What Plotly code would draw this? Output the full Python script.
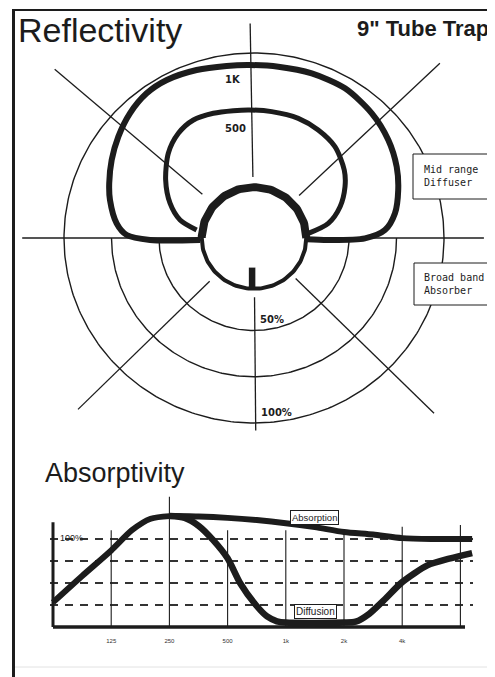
import math
import numpy as np
import plotly.graph_objects as go

# The page places the figure 8px in from the top-left corner (default body margin),
# so the figure is sized to fill the rest of the 495x677 window.
OFF = 8
PAGE_W, PAGE_H = 495, 677
W, H = PAGE_W - OFF, PAGE_H - OFF

# ---------------- Reflectivity (polar pattern), units = % of full scale ----------------
ring_levels = [50, 75, 100]
ring_full_circle = [False, False, True]
tube_radius = 27.5
spoke_angle = [0, 44, 91, 139, 180, 225, 270.5, 315]
spoke_r_in = [27.5, 33, 33, 36, 27.5, 33, 32, 31]
spoke_r_out = [121, 136, 116, 139, 122, 131, 104, 134]

# 1K reflectivity contour (x, y) in % units
k1_x = [-28.4, -54.7, -67.0, -72.3, -75.8, -76.2, -74.9, -71.4, -65.3, -56.5, -45.9,
        -30.2, -14.4, -2.5, 12.8, 30.4, 47.9, 62.0, 70.7, 75.1, 75.9, 74.2, 68.9,
        58.4, 39.1, 27.7]
k1_y = [-1.1, -1.1, 1.6, 7.9, 20.5, 29.6, 42.2, 54.8, 67.4, 78.2, 85.4,
        90.8, 93.0, 93.5, 92.6, 89.0, 80.9, 67.4, 53.0, 38.5, 25.9, 13.4, 4.3,
        -0.2, -1.1, -0.7]
# 500 Hz reflectivity contour
h500_x = [-30.2, -38.9, -44.2, -46.5, -45.1, -39.8, -31.9, -21.4, -10.9, -2.5, 9.3,
          23.3, 33.8, 42.6, 47.5, 47.9, 45.3, 39.1, 28.6]
h500_y = [4.3, 9.7, 18.8, 31.4, 45.8, 56.6, 63.8, 67.4, 68.8, 69.2, 68.3,
          64.7, 58.4, 49.4, 36.8, 27.7, 16.9, 7.9, 2.5]
absorber_bar = [16, 27.5]  # radial extent of the slot mark at the bottom

# ---------------- Absorptivity ----------------
freq_ticks = [125, 250, 500, 1000, 2000, 4000, 8000]
freq_tick_text = ["125", "250", "500", "1k", "2k", "4k", ""]
freq_grid_top = [110, 148, 110, 110, 108, 114, 116]
pct_ticks = [25, 50, 75, 100]
abs_freq = [62.5, 88.4, 125, 160, 200, 250, 354, 500, 707, 1000, 1414, 2000, 2828, 4000, 5657, 9200]
abs_pct = [28, 58, 87, 110, 123, 126, 125.5, 124, 121.5, 118, 113.5, 108, 105, 101, 100, 100]
diff_freq = [250, 300, 354, 420, 500, 580, 700, 800, 900, 1000, 2000, 2300, 2700, 3200, 4000, 5400, 7100, 9200]
diff_pct = [126, 124, 115, 99, 78, 50, 25, 12, 6.5, 5, 5, 6, 15, 30, 51, 70, 78, 84]
f_min, f_axis_end = 62.5, 8450
pct_axis_top = 119

INK = "#1c1c1c"


def px(x):
    """page pixel -> paper x"""
    return (x - OFF) / W


def py(y):
    """page pixel -> paper y"""
    return 1 - (y - OFF) / H


fig = go.Figure()

# rings
for lvl, full in zip(ring_levels, ring_full_circle):
    th = np.radians(np.linspace(0, 360, 361) if full else np.linspace(180, 360, 181))
    fig.add_trace(go.Scatter(x=lvl * np.cos(th), y=lvl * np.sin(th), mode="lines",
                             line=dict(color=INK, width=1.4), xaxis="x", yaxis="y",
                             hoverinfo="skip"))
# spokes
for a, r0, r1 in zip(spoke_angle, spoke_r_in, spoke_r_out):
    t = math.radians(a)
    fig.add_trace(go.Scatter(x=[r0 * math.cos(t), r1 * math.cos(t)],
                             y=[r0 * math.sin(t), r1 * math.sin(t)], mode="lines",
                             line=dict(color=INK, width=1.3), xaxis="x", yaxis="y",
                             hoverinfo="skip"))
# tube: upper (diffuser) thick, lower (absorber) thinner
th_up = np.radians(np.linspace(0, 180, 91))
th_lo = np.radians(np.linspace(180, 360, 91))
fig.add_trace(go.Scatter(x=tube_radius * np.cos(th_lo), y=tube_radius * np.sin(th_lo),
                         mode="lines", line=dict(color=INK, width=4), xaxis="x", yaxis="y"))
fig.add_trace(go.Scatter(x=tube_radius * np.cos(th_up), y=tube_radius * np.sin(th_up),
                         mode="lines", line=dict(color=INK, width=8), xaxis="x", yaxis="y"))
fig.add_trace(go.Scatter(x=[-1, -1], y=[-absorber_bar[0], -absorber_bar[1]], mode="lines",
                         line=dict(color=INK, width=6.5), xaxis="x", yaxis="y"))
# reflectivity contours
fig.add_trace(go.Scatter(x=k1_x, y=k1_y, mode="lines",
                         line=dict(color=INK, width=6, shape="spline", smoothing=0.8),
                         xaxis="x", yaxis="y"))
fig.add_trace(go.Scatter(x=h500_x, y=h500_y, mode="lines",
                         line=dict(color=INK, width=5, shape="spline", smoothing=0.8),
                         xaxis="x", yaxis="y"))

# absorptivity: vertical frequency grid lines
for f, top in zip(freq_ticks, freq_grid_top):
    fig.add_trace(go.Scatter(x=[f, f], y=[0, top], mode="lines",
                             line=dict(color=INK, width=1.1), xaxis="x2", yaxis="y2",
                             hoverinfo="skip"))
# axis lines
fig.add_trace(go.Scatter(x=[f_min, f_min], y=[0, pct_axis_top], mode="lines",
                         line=dict(color=INK, width=3), xaxis="x2", yaxis="y2"))
fig.add_trace(go.Scatter(x=[f_min, f_axis_end], y=[0, 0], mode="lines",
                         line=dict(color=INK, width=3.5), xaxis="x2", yaxis="y2"))
# curves
fig.add_trace(go.Scatter(x=abs_freq, y=abs_pct, mode="lines",
                         line=dict(color=INK, width=6, shape="spline", smoothing=0.7),
                         xaxis="x2", yaxis="y2"))
fig.add_trace(go.Scatter(x=diff_freq, y=diff_pct, mode="lines",
                         line=dict(color=INK, width=6.5, shape="spline", smoothing=0.7),
                         xaxis="x2", yaxis="y2"))

mono = dict(family="DejaVu Sans Mono", size=10, color=INK)
lab = dict(family="DejaVu Sans", size=10, color=INK, weight="bold")
sans = "Liberation Sans, Arial"

annotations = [
    dict(text="Reflectivity", xref="paper", yref="paper", x=px(15.5), y=py(30.5),
         xanchor="left", yanchor="middle", showarrow=False,
         font=dict(family=sans, size=34, color=INK)),
    dict(text='9" Tube Trap', xref="paper", yref="paper", x=px(355), y=py(29),
         xanchor="left", yanchor="middle", showarrow=False,
         font=dict(family=sans, size=22, color=INK, weight="bold")),
    dict(text="Absorptivity", xref="paper", yref="paper", x=px(43), y=py(473),
         xanchor="left", yanchor="middle", showarrow=False,
         font=dict(family=sans, size=27, color=INK)),
    dict(text="1K", xref="x", yref="y", x=-11, y=max(k1_y) - 7.6, showarrow=False, font=lab),
    dict(text="500", xref="x", yref="y", x=-9.5, y=max(h500_y) - 10, showarrow=False, font=lab),
    dict(text="50%", xref="x", yref="y", x=9.5, y=-ring_levels[0] + 5.7, showarrow=False, font=lab),
    dict(text="100%", xref="x", yref="y", x=12, y=-ring_levels[2] + 5.7, showarrow=False, font=lab),
    dict(text="Mid range<br>Diffuser", xref="paper", yref="paper", x=px(422), y=py(175.5),
         xanchor="left", yanchor="middle", align="left", showarrow=False, font=mono),
    dict(text="Broad band<br>Absorber", xref="paper", yref="paper", x=px(422), y=py(284),
         xanchor="left", yanchor="middle", align="left", showarrow=False, font=mono),
    dict(text="100%", xref="x2", yref="y2", x=math.log10(66), y=pct_ticks[-1] + 1,
         xanchor="left", yanchor="middle", showarrow=False,
         font=dict(family=sans, size=9, color=INK)),
    dict(text="Absorption", xref="x2", yref="y2", x=math.log10(1414), y=124.4, showarrow=False,
         font=dict(family=sans, size=9.5, color=INK),
         bgcolor="white", bordercolor=INK, borderwidth=1, borderpad=1),
    dict(text="Diffusion", xref="x2", yref="y2", x=math.log10(1430), y=17.4, showarrow=False,
         font=dict(family=sans, size=10, color=INK),
         bgcolor="white", bordercolor=INK, borderwidth=1, borderpad=1),
]

shapes = [
    # label boxes (cover the outer ring)
    dict(type="rect", xref="paper", yref="paper", x0=px(413), x1=px(490), y0=py(199), y1=py(154),
         fillcolor="white", line=dict(color=INK, width=1)),
    dict(type="rect", xref="paper", yref="paper", x0=px(414), x1=px(491), y0=py(305), y1=py(263),
         fillcolor="white", line=dict(color=INK, width=1)),
    # page frame
    dict(type="line", xref="paper", yref="paper", x0=px(13.5), x1=px(13.5), y0=0, y1=py(9),
         line=dict(color=INK, width=3)),
    dict(type="line", xref="paper", yref="paper", x0=px(12), x1=1, y0=py(10), y1=py(10),
         line=dict(color=INK, width=2)),
    dict(type="line", xref="paper", yref="paper", x0=px(15), x1=1, y0=py(667), y1=py(667),
         line=dict(color="#e2e2e2", width=1)),
]

# bottom chart: 0 % at page y 627, 0.88 px per %; 62.5 Hz at page x 53, 58.2 px per octave
f_lo, f_hi = 60, 9300
p_lo, p_hi = -3, 150
x_of = lambda f: 53 + 58.2 * math.log2(f / 62.5)
y_of = lambda p: 627 - 0.88 * p

fig.update_layout(
    width=W, height=H,
    margin=dict(l=0, r=0, t=0, b=0),
    paper_bgcolor="white", plot_bgcolor="rgba(0,0,0,0)",
    showlegend=False,
    xaxis=dict(domain=[0, 1], range=[(OFF - 254) / 1.9, (PAGE_W - 254) / 1.9],
               visible=False, fixedrange=True),
    yaxis=dict(domain=[py(460), 1], range=[(238 - 460) / 1.85, (238 - OFF) / 1.85],
               visible=False, fixedrange=True),
    xaxis2=dict(domain=[px(x_of(f_lo)), px(x_of(f_hi))], type="log",
                range=[math.log10(f_lo), math.log10(f_hi)], anchor="y2",
                tickvals=freq_ticks, ticktext=freq_tick_text, ticks="",
                tickfont=dict(family=sans, size=6, color="#333"),
                ticklabelstandoff=6,
                showgrid=False, zeroline=False, showline=False),
    yaxis2=dict(domain=[py(y_of(p_lo)), py(y_of(p_hi))], range=[p_lo, p_hi], anchor="x2",
                tickvals=pct_ticks, showticklabels=False, ticks="",
                showgrid=True, gridcolor="#333", gridwidth=1.5, griddash="8px,7px",
                zeroline=False, showline=False),
    annotations=annotations,
    shapes=shapes,
)

fig.write_html("out.html")
